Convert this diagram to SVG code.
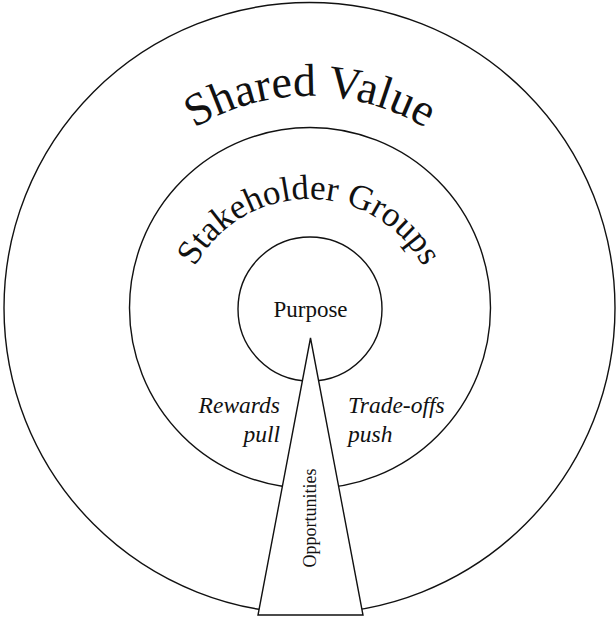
<svg xmlns="http://www.w3.org/2000/svg" width="616" height="619" viewBox="0 0 616 619">
<style>
.ring{fill:none;stroke:#111;stroke-width:1.4}
.lbl{font-family:"Liberation Serif","Times New Roman",serif;fill:#111}
.it{font-style:italic}
</style>
<defs>
<path id="arcOuter" d="M 87 319 A 223 223 0 0 1 533 319"/>
<path id="arcMid" d="M 179 329 A 130 130 0 0 1 439 329"/>
</defs>
<rect width="616" height="619" fill="#fff"/>
<g id="shared-value">
<circle class="ring" cx="309.5" cy="308" r="305.5"/>
<text class="lbl" font-size="46"><textPath href="#arcOuter" startOffset="50%" text-anchor="middle">Shared Value</textPath></text>
</g>
<g id="stakeholder-groups">
<circle class="ring" cx="310" cy="308" r="180.5"/>
<text class="lbl" font-size="35"><textPath href="#arcMid" startOffset="50%" text-anchor="middle">Stakeholder Groups</textPath></text>
</g>
<g id="purpose">
<circle class="ring" cx="310" cy="309" r="72"/>
<text class="lbl" x="310.5" y="317" font-size="23" text-anchor="middle">Purpose</text>
</g>
<g id="opportunities">
<polygon points="310.5,338 258,615 363,615" fill="#fff" stroke="#111" stroke-width="1.4" stroke-linejoin="miter"/>
<text class="lbl" font-size="18" text-anchor="middle" transform="translate(316 518) rotate(-90)">Opportunities</text>
</g>
<g id="labels">
<text class="lbl it" font-size="23.5" text-anchor="end" x="280" y="413">Rewards</text>
<text class="lbl it" font-size="23.5" text-anchor="end" x="280" y="442">pull</text>
<text class="lbl it" font-size="23.5" x="348" y="413">Trade-offs</text>
<text class="lbl it" font-size="23.5" x="348" y="442">push</text>
</g>
<g id="connectors"></g>
</svg>
